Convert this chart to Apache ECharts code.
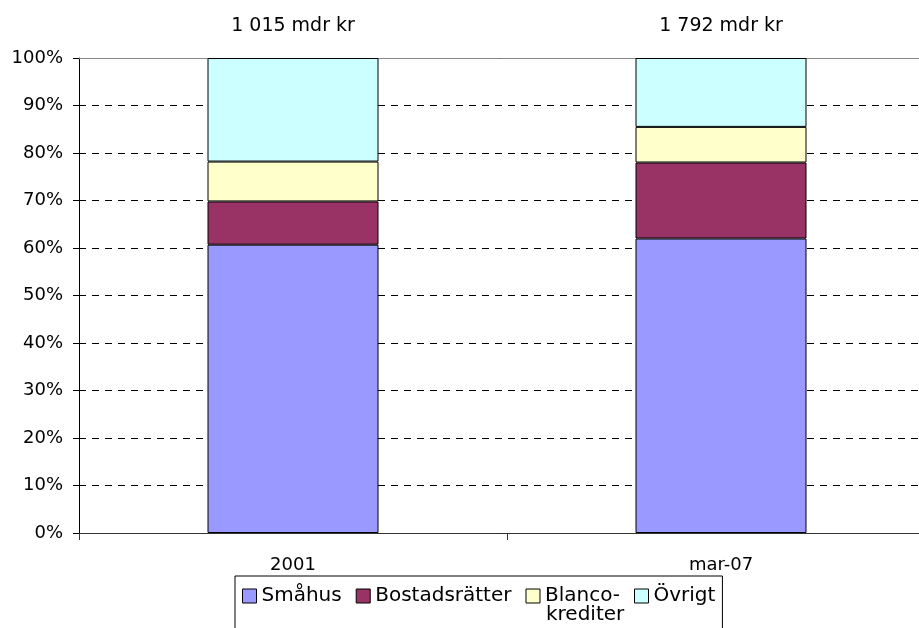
<!DOCTYPE html>
<html lang="sv">
<head>
    <meta charset="UTF-8">
    <script src="https://cdn.jsdelivr.net/npm/echarts@6/dist/echarts.min.js"></script>
    <style type="text/css">
        html, body, #main {
            height: 100%;
            width: 100%;
            margin: 0;
            padding: 0;
            background: #fff;
        }
    </style>
    <title>Hushållens lån</title>
</head>
<body>
<div id="main"></div>
<script>
    // data (share of total, %)
    var categories = ['2001', 'mar-07'];
    var totals = ['1 015 mdr kr', '1 792 mdr kr'];
    var smahus = [60.7, 62.0];
    var bostadsratter = [9.1, 16.0];
    var blanco = [8.4, 7.5];
    var ovrigt = [21.8, 14.5];
    var yTicks = [0, 10, 20, 30, 40, 50, 60, 70, 80, 90, 100];

    var font = 'DejaVu Sans';
    var myChart = echarts.init(document.getElementById('main'));

    function barSeries(name, data, color, extra) {
        var s = {
            name: name,
            type: 'bar',
            stack: 'total',
            data: data,
            barWidth: 171,
            itemStyle: {color: color, borderColor: '#000', borderWidth: 1},
            emphasis: {disabled: true}
        };
        return Object.assign(s, extra || {});
    }

    var option = {
        animation: false,
        textStyle: {fontFamily: font},
        // plot area runs past the right edge of the picture
        grid: {left: 79, width: 856, top: 58, height: 475, outerBoundsMode: 'none', containLabel: false},
        legend: {
            left: 235,
            top: 576,
            orient: 'horizontal',
            padding: [10, 7, 40, 7],
            itemGap: 14,
            itemWidth: 14,
            itemHeight: 14,
            icon: 'rect',
            itemStyle: {borderColor: '#000', borderWidth: 1},
            borderColor: '#000',
            borderWidth: 1,
            textStyle: {fontFamily: font, fontSize: 20, color: '#000'},
            formatter: function (name) {
                return name === 'Blanco-krediter' ? 'Blanco-' : name;
            },
            selectedMode: false
        },
        graphic: [{
            type: 'text',
            left: 546,
            top: 605,
            style: {text: 'krediter', font: '20px "DejaVu Sans"', fill: '#000'}
        }],
        xAxis: [{
            type: 'category',
            data: categories,
            axisLine: {lineStyle: {color: '#333', width: 1}},
            axisTick: {show: true, length: 7, lineStyle: {color: '#333'}},
            axisLabel: {fontFamily: font, fontSize: 18, color: '#000', margin: 23}
        }, {
            type: 'category',
            data: categories,
            position: 'top',
            axisLine: {lineStyle: {color: '#888', width: 1}},
            axisTick: {show: false},
            axisLabel: {show: false}
        }],
        yAxis: {
            type: 'value',
            min: 0,
            max: 100,
            interval: 10,
            axisLine: {show: true, lineStyle: {color: '#000'}},
            axisTick: {show: true, length: 6, lineStyle: {color: '#000'}},
            axisLabel: {
                fontFamily: font, fontSize: 18, color: '#000', margin: 16,
                formatter: function (v) { return yTicks.indexOf(v) >= 0 ? v + '%' : ''; }
            },
            splitLine: {show: true, lineStyle: {color: '#000', type: [7, 6], width: 1}}
        },
        series: [
            barSeries('Småhus', smahus, '#9999FF'),
            barSeries('Bostadsrätter', bostadsratter, '#993366'),
            barSeries('Blanco-krediter', blanco, '#FFFFCC'),
            barSeries('Övrigt', ovrigt, '#CCFFFF', {
                label: {
                    show: true,
                    position: 'top',
                    distance: 22,
                    fontFamily: font,
                    fontSize: 19,
                    color: '#000',
                    formatter: function (p) { return totals[p.dataIndex]; }
                }
            })
        ]
    };

    myChart.setOption(option);
</script>
</body>
</html>
